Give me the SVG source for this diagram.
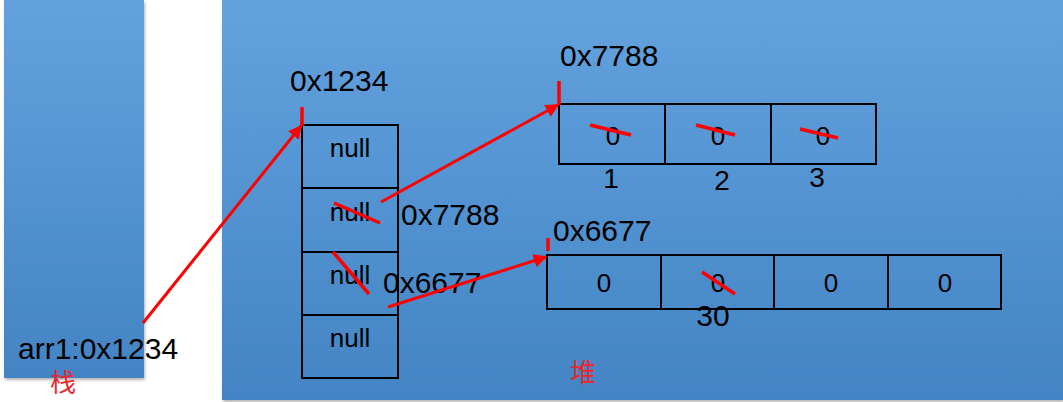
<svg xmlns="http://www.w3.org/2000/svg" width="1063" height="402" viewBox="0 0 1063 402">
<defs>
<linearGradient id="bg" x1="0" y1="0" x2="0" y2="1">
<stop offset="0" stop-color="#63a2de"/>
<stop offset="1" stop-color="#4384c4"/>
</linearGradient>
<filter id="sh" x="-5%" y="-5%" width="112%" height="112%">
<feDropShadow dx="1" dy="2" stdDeviation="1.5" flood-color="#000" flood-opacity="0.3"/>
</filter>
<marker id="ah" viewBox="0 0 10 10" refX="9" refY="5" markerWidth="4.5" markerHeight="4.5" orient="auto" markerUnits="strokeWidth">
<path d="M0,0 L10,5 L0,10 z" fill="#ff0000"/>
</marker>
</defs>
<style>
.t{font-family:"Liberation Sans",Arial,sans-serif;fill:#000;}
.big{font-size:30px;}
.cell{font-size:26px;}
.idx{font-size:28px;}
.zh{font-family:"Noto Sans CJK SC","Liberation Sans",sans-serif;font-size:26px;fill:#e8272d;}
.box{fill:none;stroke:#000;stroke-width:2;}
.red{stroke:#ff0000;stroke-width:3.5;fill:none;}
.arr{stroke:#ff0000;stroke-width:3;fill:none;marker-end:url(#ah);}
</style>
<rect width="1063" height="402" fill="#fff"/>
<g id="stack">
<rect x="4" y="0" width="140" height="378" fill="url(#bg)" filter="url(#sh)"/>
</g>
<g id="heap">
<rect x="222" y="0" width="841" height="400" fill="url(#bg)" filter="url(#sh)"/>
</g>
<g id="stack-labels">
<text class="t big" x="18" y="359">arr1:0x1234</text>
<text class="zh" x="50" y="392">栈</text>
</g>
<g id="heap-label">
<text class="zh" x="570" y="382">堆</text>
</g>
<g id="addr-labels">
<text class="t big" x="290" y="91">0x1234</text>
<text class="t big" x="560" y="66">0x7788</text>
<text class="t big" x="553" y="241">0x6677</text>
<text class="t big" x="401" y="225">0x7788</text>
<text class="t big" x="383" y="293">0x6677</text>
</g>
<g id="outer-array">
<rect class="box" x="302" y="125" width="96" height="253"/>
<line class="box" x1="302" y1="188" x2="398" y2="188"/>
<line class="box" x1="302" y1="252" x2="398" y2="252"/>
<line class="box" x1="302" y1="315" x2="398" y2="315"/>
<text class="t cell" x="350" y="157" text-anchor="middle">null</text>
<text class="t cell" x="350" y="221" text-anchor="middle">null</text>
<text class="t cell" x="350" y="284" text-anchor="middle">null</text>
<text class="t cell" x="350" y="347" text-anchor="middle">null</text>
</g>
<g id="array-7788">
<rect class="box" x="559" y="104" width="317" height="60"/>
<line class="box" x1="665" y1="104" x2="665" y2="164"/>
<line class="box" x1="771" y1="104" x2="771" y2="164"/>
<text class="t cell" x="613" y="145" text-anchor="middle">0</text>
<text class="t cell" x="718" y="145" text-anchor="middle">0</text>
<text class="t cell" x="823" y="145" text-anchor="middle">0</text>
<text class="t idx" x="611" y="188" text-anchor="middle">1</text>
<text class="t idx" x="722" y="190" text-anchor="middle">2</text>
<text class="t idx" x="817" y="187" text-anchor="middle">3</text>
</g>
<g id="array-6677">
<rect class="box" x="547" y="255" width="454" height="54"/>
<line class="box" x1="661" y1="255" x2="661" y2="309"/>
<line class="box" x1="774" y1="255" x2="774" y2="309"/>
<line class="box" x1="888" y1="255" x2="888" y2="309"/>
<text class="t cell" x="604" y="292" text-anchor="middle">0</text>
<text class="t cell" x="718" y="292" text-anchor="middle">0</text>
<text class="t cell" x="831" y="292" text-anchor="middle">0</text>
<text class="t cell" x="945" y="292" text-anchor="middle">0</text>
<text class="t big" x="713" y="326" text-anchor="middle">30</text>
</g>
<g id="connectors">
<line class="arr" x1="143" y1="323" x2="301" y2="126"/>
<line class="red" x1="302" y1="107" x2="302" y2="126"/>
<line class="arr" x1="381" y1="202" x2="558" y2="105"/>
<line class="red" x1="559" y1="81" x2="559" y2="105"/>
<line class="arr" x1="388" y1="307" x2="546" y2="257"/>
<line class="red" x1="548" y1="238" x2="548" y2="251"/>
<line class="red" x1="334" y1="203" x2="380" y2="223"/>
<line class="red" x1="333" y1="252" x2="369" y2="294"/>
<line class="red" x1="590" y1="125" x2="631" y2="135"/>
<line class="red" x1="696" y1="125" x2="735" y2="135"/>
<line class="red" x1="800" y1="129" x2="838" y2="138"/>
<line class="red" x1="702" y1="272" x2="735" y2="294"/>
</g>
</svg>
